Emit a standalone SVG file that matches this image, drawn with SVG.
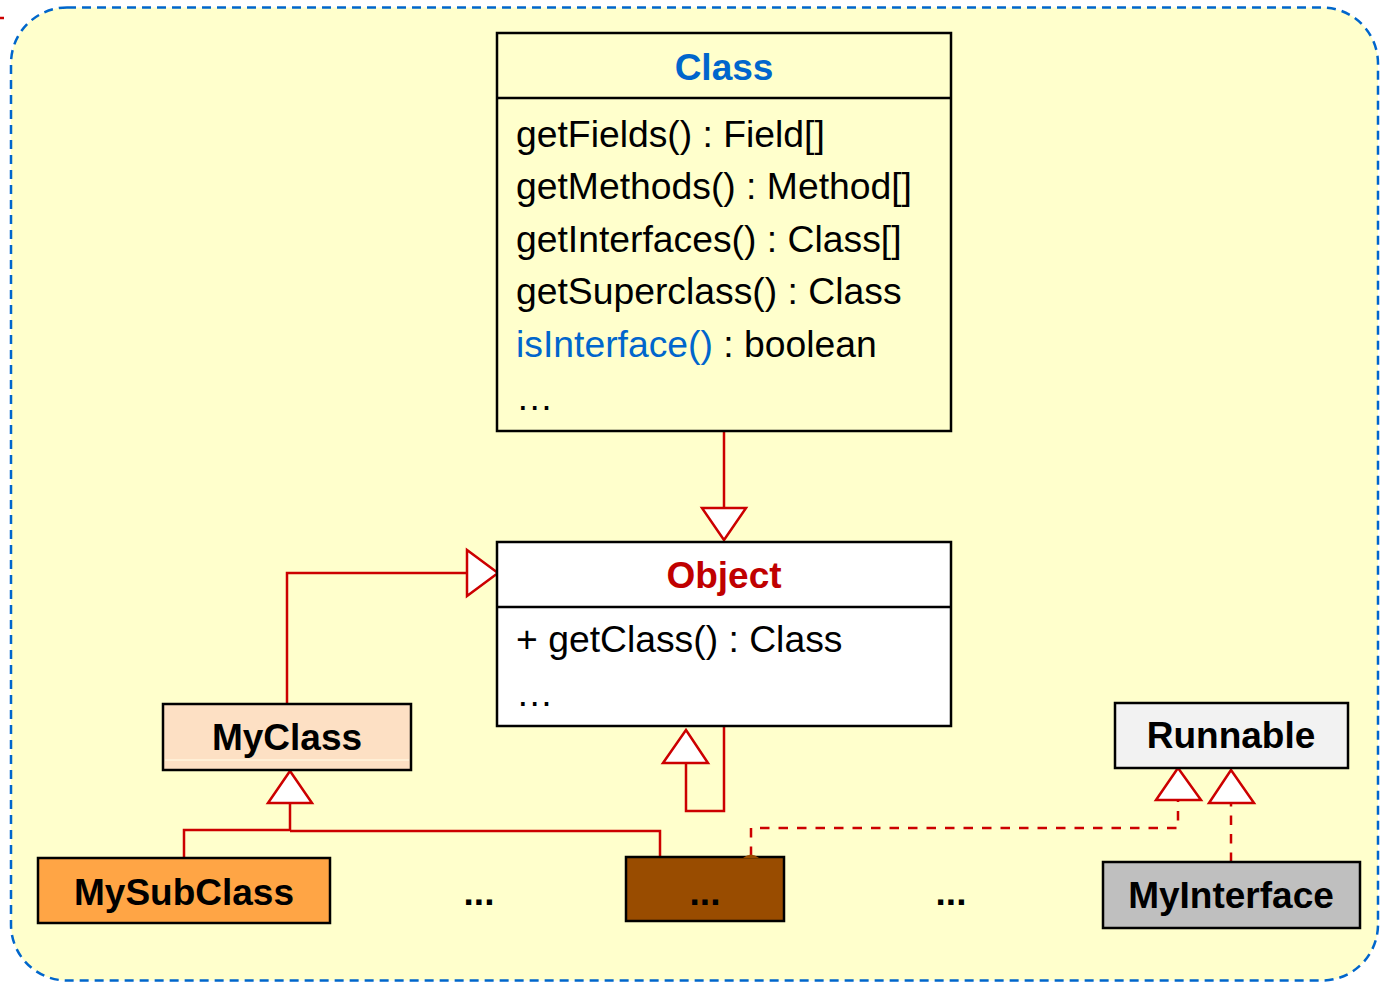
<svg xmlns="http://www.w3.org/2000/svg" width="1387" height="985" viewBox="0 0 1387 985">
  <defs>
    <style>
      .frame { fill: #ffffcc; stroke: #0066cc; stroke-width: 2.5; stroke-dasharray: 9 6; }
      .box { stroke: #000; stroke-width: 2.5; }
      .title { font-family: "Liberation Sans", Arial, sans-serif; font-weight: bold; font-size: 37px; text-anchor: middle; fill: #000; }
      .member { font-family: "Liberation Sans", Arial, sans-serif; font-size: 37.3px; fill: #000; }
      .edge { fill: none; stroke: #cc0000; stroke-width: 2.5; }
      .dashed { stroke-dasharray: 9.5 9; }
      .head { fill: #fff; stroke: #cc0000; stroke-width: 2.5; stroke-linejoin: miter; }
    </style>
  </defs>

  <rect width="1387" height="985" fill="#fff"/>
  <line x1="0" y1="18" x2="4" y2="18" stroke="#cc0000" stroke-width="2.5"/>
  <rect class="frame" x="11" y="7.5" width="1367" height="973" rx="56" ry="56"/>

  <!-- connectors -->
  <g id="connectors">
    <!-- Class generalizes to Object -->
    <line class="edge" x1="724" y1="431" x2="724" y2="508"/>
    <polygon class="head" points="702,508 746,508 724,540"/>

    <!-- MyClass to Object -->
    <polyline class="edge" points="287,704 287,573 467,573"/>
    <polygon class="head" points="467,550 467,596 498,573"/>

    <!-- subclasses to MyClass -->
    <polyline class="edge" points="290,803 290,830 184,830 184,858"/>
    <polyline class="edge" points="290,831 660,831 660,857"/>
    <polygon class="head" points="268,803 312,803 290,771"/>

    <!-- loop under Object -->
    <polyline class="edge" points="724,726 724,811 686,811 686,763"/>
    <polygon class="head" points="663,763 708,763 686,730"/>

    <!-- realizations of Runnable -->
    <polyline class="edge dashed" points="751,856 751,828 1178,828 1178,800"/>
    <polygon class="head" points="1156,800 1201,800 1178,768"/>
    <line class="edge dashed" x1="1231" y1="862" x2="1231" y2="803"/>
    <polygon class="head" points="1209,803 1254,803 1231,770"/>
  </g>

  <!-- Class -->
  <g id="node-class">
    <rect class="box" x="497" y="33" width="454" height="398" fill="#ffffcc"/>
    <line class="box" x1="497" y1="98" x2="951" y2="98"/>
    <text class="title" x="724" y="80" style="fill:#0066cc">Class</text>
    <text class="member" x="516" y="147">getFields() : Field[]</text>
    <text class="member" x="516" y="199">getMethods() : Method[]</text>
    <text class="member" x="516" y="252">getInterfaces() : Class[]</text>
    <text class="member" x="516" y="304">getSuperclass() : Class</text>
    <text class="member" x="516" y="357"><tspan fill="#0066cc">isInterface()</tspan> : boolean</text>
    <text class="member" x="516" y="410">…</text>
  </g>

  <!-- Object -->
  <g id="node-object">
    <rect class="box" x="497" y="542" width="454" height="184" fill="#fff"/>
    <line class="box" x1="497" y1="607" x2="951" y2="607"/>
    <text class="title" x="724" y="588" style="fill:#c00000">Object</text>
    <text class="member" x="516" y="652">+ getClass() : Class</text>
    <text class="member" x="516" y="706">…</text>
  </g>

  <!-- MyClass -->
  <g id="node-myclass">
    <rect class="box" x="163" y="704" width="248" height="66" fill="#fde0c4"/>
    <line x1="165" y1="760" x2="409" y2="760" stroke="#fff4dc" stroke-width="1.5"/>
    <text class="title" x="287" y="750">MyClass</text>
  </g>

  <!-- MySubClass -->
  <g id="node-mysubclass">
    <rect class="box" x="38" y="858" width="292" height="65" fill="#ffa545"/>
    <text class="title" x="184" y="905">MySubClass</text>
  </g>

  <!-- other subclasses -->
  <g id="node-more-left">
    <text class="title" x="479" y="905">...</text>
  </g>

  <g id="node-brown">
    <rect class="box" x="626" y="857" width="158" height="64" fill="#994c00"/>
    <path d="M743,858 Q751,851 759,858 Z" fill="#994c00"/>
    <text class="title" x="705" y="905">...</text>
  </g>

  <g id="node-more-right">
    <text class="title" x="951" y="905">...</text>
  </g>

  <!-- Runnable -->
  <g id="node-runnable">
    <rect class="box" x="1115" y="703" width="233" height="65" fill="#f2f2f2"/>
    <text class="title" x="1231" y="748">Runnable</text>
  </g>

  <!-- MyInterface -->
  <g id="node-myinterface">
    <rect class="box" x="1103" y="862" width="257" height="66" fill="#bfbfbf"/>
    <text class="title" x="1231" y="908">MyInterface</text>
  </g>
</svg>
